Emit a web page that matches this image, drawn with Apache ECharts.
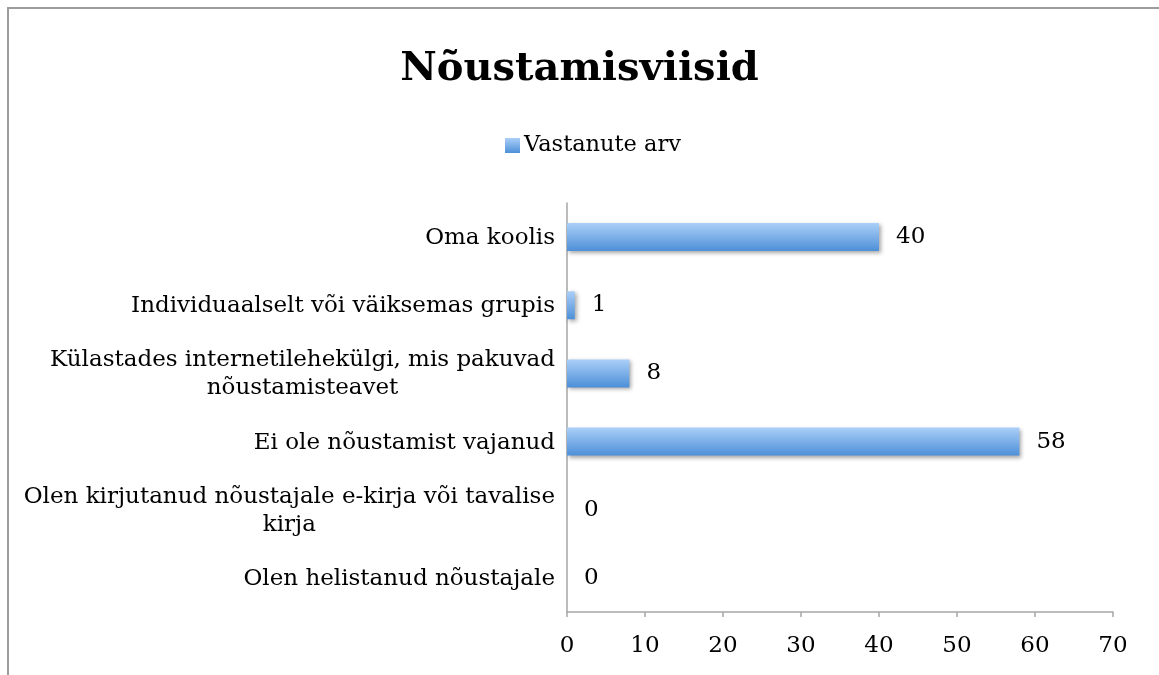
<!DOCTYPE html>
<html>
<head>
<meta charset="utf-8">
<script src="https://cdn.jsdelivr.net/npm/echarts@6/dist/echarts.min.js"></script>
<style>
    html,body{margin:0;padding:0;background:#fff;}
    #chart{position:absolute;left:0;top:0;width:1159px;height:675px;}
    #frame{position:absolute;left:7px;top:7px;width:1170px;height:690px;border:2px solid #9c9c9c;box-sizing:border-box;}
</style>
</head>
<body>
<div id="frame"></div>
<div id="chart"></div>
<script>
        var categories = [
            "Olen helistanud nõustajale",
            "Olen kirjutanud nõustajale e-kirja või tavalise\nkirja",
            "Ei ole nõustamist vajanud",
            "Külastades internetilehekülgi, mis pakuvad\nnõustamisteavet",
            "Individuaalselt või väiksemas grupis",
            "Oma koolis"
        ];
        var values = [0, 0, 58, 8, 1, 40];
        var seriesName = "Vastanute arv";
        var titleText = "Nõustamisviisid";

        var serif = "'DejaVu Serif', 'Liberation Serif', serif";
        var axisGray = "#a6a6a6";

        //柱子渐变
        var barColor = new echarts.graphic.LinearGradient(0, 0, 0, 1, [
            {offset: 0, color: "#abcff8"},
            {offset: 1, color: "#4d8fd8"}
        ]);

        var chart = echarts.init(document.getElementById("chart"));
        var option = {
            animation: false,
            title: {
                text: titleText,
                left: "center",
                top: 45,
                textStyle: {
                    fontFamily: serif,
                    fontSize: 40,
                    fontWeight: "bold",
                    color: "#000"
                }
            },
            legend: {
                data: [seriesName],
                left: 500,
                top: 129,
                itemWidth: 15,
                itemHeight: 15,
                itemGap: 5,
                icon: "rect",
                textStyle: {
                    fontFamily: serif,
                    fontSize: 22.5,
                    color: "#000",
                    padding: [0, 0, 0, -1]
                }
            },
            grid: {
                left: 567,
                right: 46,
                top: 203,
                bottom: 63,
                containLabel: false
            },
            xAxis: {
                type: "value",
                min: 0,
                max: 70,
                interval: 10,
                axisLine: {show: true, lineStyle: {color: axisGray, width: 1.5}},
                axisTick: {show: true, length: 5, lineStyle: {color: axisGray, width: 1.5}},
                splitLine: {show: false},
                axisLabel: {
                    margin: 23,
                    fontFamily: serif,
                    fontSize: 23,
                    color: "#000"
                }
            },
            yAxis: {
                type: "category",
                data: categories,
                axisLine: {show: true, lineStyle: {color: axisGray, width: 1.5}},
                axisTick: {show: false},
                axisLabel: {
                    margin: 12,
                    color: "#000",
                    formatter: function(v){
                        return v.split("\n").map(function(s){ return "{c|" + s + "}"; }).join("\n");
                    },
                    rich: {
                        c: {
                            align: "center",
                            fontFamily: serif,
                            fontSize: 23,
                            lineHeight: 28,
                            color: "#000",
                            padding: [2, 0, 0, 0]
                        }
                    }
                }
            },
            series: [
                {
                    name: seriesName,
                    type: "bar",
                    data: values,
                    barWidth: 28,
                    itemStyle: {
                        color: barColor,
                        shadowColor: "rgba(0,0,0,0.35)",
                        shadowBlur: 4,
                        shadowOffsetX: 2,
                        shadowOffsetY: 2
                    },
                    label: {
                        show: true,
                        position: "right",
                        distance: 17,
                        fontFamily: serif,
                        fontSize: 23,
                        color: "#000"
                    }
                }
            ]
        };
        chart.setOption(option);
</script>
</body>
</html>
